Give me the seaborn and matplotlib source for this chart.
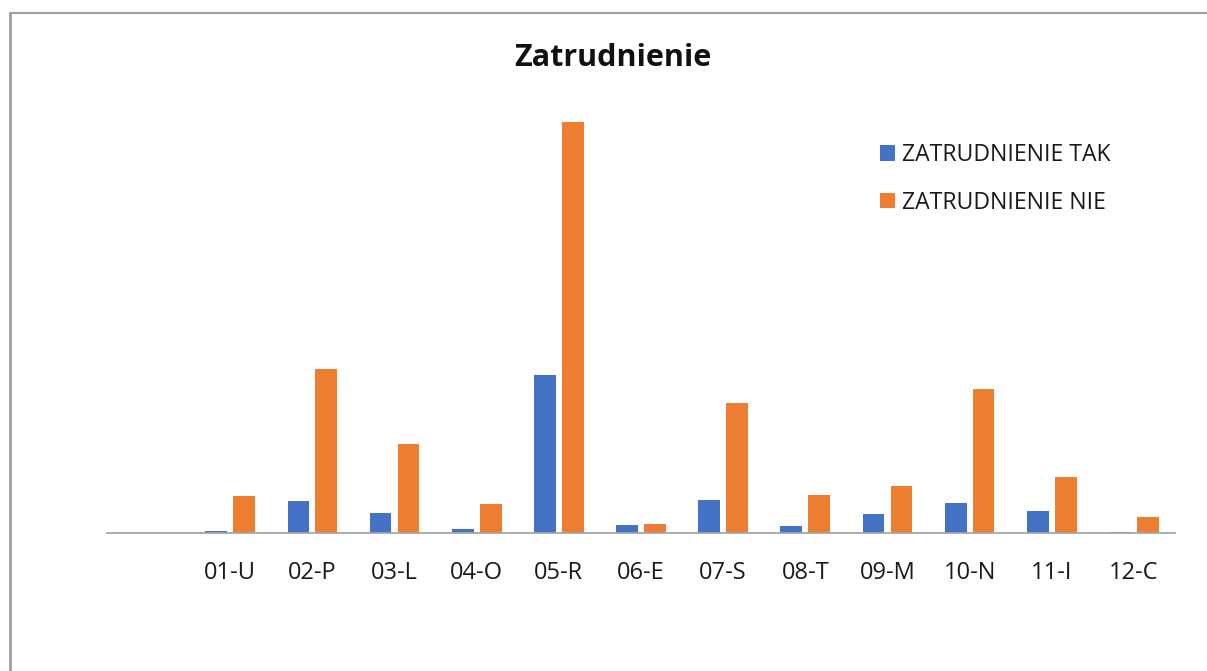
import matplotlib

matplotlib.use("Agg")

import matplotlib.pyplot as plt
import pandas as pd
import seaborn as sns
from matplotlib.lines import Line2D

# blank first slot is part of the original category axis
categories = ["", "01-U", "02-P", "03-L", "04-O", "05-R", "06-E",
              "07-S", "08-T", "09-M", "10-N", "11-I", "12-C"]
labels_used = categories[1:]
tak = [2, 32, 20.5, 4.5, 158, 8, 33.5, 7, 19.5, 30.5, 22.5, 1]
nie = [37, 164, 89, 29.5, 411, 9, 130, 38, 47.5, 144, 56.5, 16.5]
series = ["ZATRUDNIENIE TAK", "ZATRUDNIENIE NIE"]
colors = ["#4472C4", "#ED7D31"]

df = pd.DataFrame({
    "kategoria": labels_used * 2,
    "seria": [series[0]] * len(tak) + [series[1]] * len(nie),
    "wartosc": tak + nie,
})

sns.set_theme(style="white")
plt.rcParams["font.family"] = ["Open Sans", "DejaVu Sans"]

W, H = 1207, 671
fig = plt.figure(figsize=(W / 100, H / 100), dpi=100)
ax = fig.add_axes([107 / W, (H - 533) / H, (1175 - 107) / W, 433 / H])

sns.barplot(
    data=df, x="kategoria", y="wartosc", hue="seria", order=categories,
    hue_order=series, palette=colors, width=0.68, gap=0.22,
    saturation=1, ax=ax, linewidth=0,
)
ax.set_ylim(0, 433)
ax.set_xlim(-0.5, len(categories) - 0.5)
ax.set_xlabel("")
ax.set_ylabel("")
ax.set_yticks([])
for side in ["top", "right", "left"]:
    ax.spines[side].set_visible(False)
ax.spines["bottom"].set_color("#A6A6A6")
ax.spines["bottom"].set_linewidth(1.3)
ax.tick_params(axis="x", length=0, pad=20, labelsize=17, colors="#1a1a1a")

leg = ax.legend(
    loc="upper left", bbox_to_anchor=(880 / W, 1 - 143 / H),
    bbox_transform=fig.transFigure, frameon=False, fontsize=16.6,
    handlelength=0.65, handleheight=0.65, handletextpad=0.3, labelspacing=1.02,
    borderaxespad=0, borderpad=0,
)
for t in leg.get_texts():
    t.set_color("#1a1a1a")

fig.text(613 / W, 1 - 58 / H, "Zatrudnienie", ha="center", va="center",
         fontsize=22, fontweight="bold", color="#111111")

# chart frame (only left and top edges fall inside the picture)
fig.add_artist(Line2D([9.5 / W, 9.5 / W], [0, 1 - 12.5 / H],
                      transform=fig.transFigure, color="#A0A0A0", lw=2))
fig.add_artist(Line2D([9.5 / W, 1], [1 - 12.5 / H, 1 - 12.5 / H],
                      transform=fig.transFigure, color="#A0A0A0", lw=1.5))

fig.savefig("out.png", dpi=100)
plt.close(fig)
